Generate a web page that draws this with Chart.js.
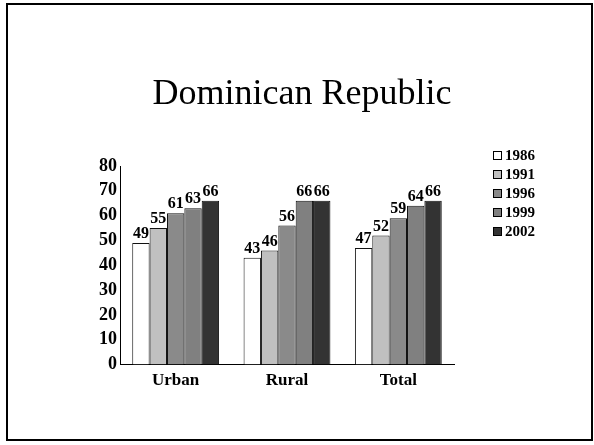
<!DOCTYPE html>
<html>
<head>
<meta charset="utf-8">
<script src="https://cdn.jsdelivr.net/npm/chart.js@4"></script>
<style>
  body { margin: 0; background: #fff; }
  #wrap { position: relative; width: 594px; height: 445px; }
  #frame { position: absolute; left: 6px; top: 3px; width: 583px; height: 434px; border: 2px solid #000; pointer-events: none; }
</style>
</head>
<body>
<div id="wrap">
  <canvas id="chart" width="594" height="445"></canvas>
  <div id="frame"></div>
</div>
<script>
const categories = ["Urban", "Rural", "Total"];
const years = ["1986", "1991", "1996", "1999", "2002"];
const v1986 = [49, 43, 47];
const v1991 = [55, 46, 52];
const v1996 = [61, 56, 59];
const v1999 = [63, 66, 64];
const v2002 = [66, 66, 66];
const yTicks = [0, 10, 20, 30, 40, 50, 60, 70, 80];
const titleText = "Dominican Republic";

const colors = ["#ffffff", "#c0c0c0", "#8a8a8a", "#808080", "#333333"];
const serif = "'Liberation Serif', 'Times New Roman', serif";

// value labels on top of bars
const barLabels = {
  id: "barLabels",
  afterDatasetsDraw(chart) {
    const ctx = chart.ctx;
    ctx.save();
    ctx.font = "bold 16px " + serif;
    ctx.fillStyle = "#000";
    ctx.textAlign = "center";
    ctx.textBaseline = "bottom";
    chart.data.datasets.forEach((ds, i) => {
      chart.getDatasetMeta(i).data.forEach((bar, j) => {
        ctx.fillText(ds.data[j], bar.x, bar.y - 1);
      });
    });
    ctx.restore();
  }
};

// slide title + legend on the right, drawn by hand
const sideLegend = {
  id: "sideLegend",
  afterDraw(chart) {
    const ctx = chart.ctx;
    ctx.save();
    ctx.fillStyle = "#000";
    ctx.font = "36px " + serif;
    ctx.textAlign = "center";
    ctx.textBaseline = "middle";
    ctx.fillText(titleText, 302, 95);

    ctx.textAlign = "left";
    ctx.font = "bold 15px " + serif;
    chart.data.datasets.forEach((ds, i) => {
      const y = 155 + i * 19;
      ctx.fillStyle = ds.backgroundColor;
      ctx.fillRect(493, y - 4, 8, 8);
      ctx.strokeStyle = "#000";
      ctx.lineWidth = 1;
      ctx.strokeRect(493.5, y - 3.5, 8, 8);
      ctx.fillStyle = "#000";
      ctx.fillText(ds.label, 505, y + 1);
    });
    ctx.restore();
  }
};

const series = [v1986, v1991, v1996, v1999, v2002];

new Chart(document.getElementById("chart"), {
  type: "bar",
  data: {
    labels: categories,
    datasets: years.map((y, i) => ({
      label: y,
      data: series[i],
      backgroundColor: colors[i],
      borderColor: "#111",
      borderWidth: 1,
      categoryPercentage: 0.78,
      barPercentage: 1.0
    }))
  },
  options: {
    responsive: false,
    animation: false,
    layout: { padding: { left: 84, right: 140, top: 166, bottom: 48 } },
    plugins: {
      legend: { display: false },
      tooltip: { enabled: false },
      title: { display: false }
    },
    scales: {
      x: {
        grid: { display: false, drawTicks: false },
        border: { color: "#000", width: 1 },
        ticks: { color: "#000", font: { family: serif, size: 17, weight: "bold" }, padding: 6 }
      },
      y: {
        min: 0,
        max: 80,
        afterFit(s) { s.width = 36; },
        afterBuildTicks(s) { s.ticks = yTicks.map(v => ({ value: v })); },
        grid: { display: false, drawTicks: false },
        border: { color: "#000", width: 1 },
        ticks: { color: "#000", font: { family: serif, size: 18, weight: "bold" }, padding: 3 }
      }
    }
  },
  plugins: [barLabels, sideLegend]
});
</script>
</body>
</html>
